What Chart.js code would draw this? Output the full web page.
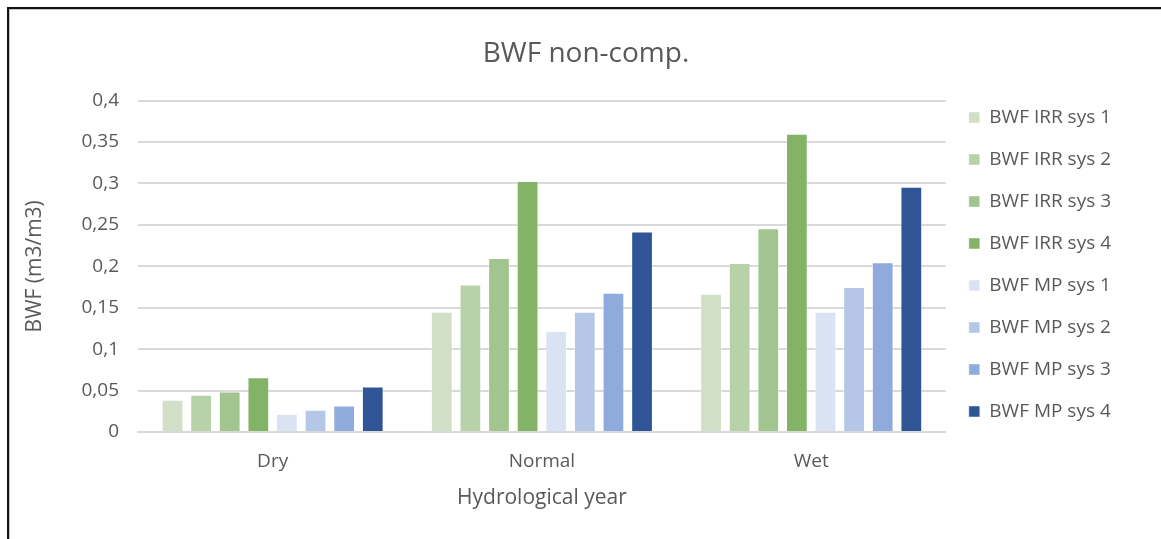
<!DOCTYPE html>
<html>
<head>
<meta charset="utf-8">
<script src="https://cdn.jsdelivr.net/npm/chart.js@4/dist/chart.umd.min.js"></script>
<style>
  html, body { margin: 0; padding: 0; background: #fff; }
  #wrap { position: relative; width: 1161px; height: 539px; overflow: hidden; }
  #frame {
    position: absolute; left: 7px; top: 7px; width: 1200px; height: 600px;
    border-left: 2px solid #111; border-top: 2px solid #111;
    box-shadow: inset 1px 1px 0 #c8c8c8; pointer-events: none;
  }
  canvas { position: absolute; left: 0; top: 0; }
</style>
</head>
<body>
<div id="wrap">
  <canvas id="chart" width="1161" height="539"></canvas>
  <div id="frame"></div>
</div>
<script>
// Hydrological year categories
const categories = ['Dry', 'Normal', 'Wet'];

// Blue water footprint per system (m3/m3)
const irrSys1 = [0.039, 0.145, 0.167];
const irrSys2 = [0.045, 0.178, 0.204];
const irrSys3 = [0.049, 0.210, 0.246];
const irrSys4 = [0.066, 0.303, 0.360];
const mpSys1  = [0.022, 0.122, 0.145];
const mpSys2  = [0.027, 0.145, 0.175];
const mpSys3  = [0.032, 0.168, 0.205];
const mpSys4  = [0.055, 0.242, 0.296];

const seriesLabels = [
  'BWF IRR sys 1', 'BWF IRR sys 2', 'BWF IRR sys 3', 'BWF IRR sys 4',
  'BWF MP sys 1', 'BWF MP sys 2', 'BWF MP sys 3', 'BWF MP sys 4'
];
const seriesValues = [irrSys1, irrSys2, irrSys3, irrSys4, mpSys1, mpSys2, mpSys3, mpSys4];
const seriesColors = [
  '#d0dfc6', '#b7d2a9', '#a2c48f', '#82b366',
  '#dae3f3', '#b4c7e7', '#8faadc', '#2f5597'
];

const yTickLabels = ['0', '0,05', '0,1', '0,15', '0,2', '0,25', '0,3', '0,35', '0,4'];

const textColor = '#595959';
const fontFamily = '"Open Sans", "Noto Sans", sans-serif';

new Chart(document.getElementById('chart'), {
  type: 'bar',
  data: {
    labels: categories,
    datasets: seriesLabels.map((label, i) => ({
      label,
      data: seriesValues[i],
      backgroundColor: seriesColors[i],
      borderColor: 'rgba(255,255,255,0.45)',
      borderWidth: 1,
      categoryPercentage: 0.85,
      barPercentage: 0.76
    }))
  },
  options: {
    responsive: false,
    animation: false,
    layout: { padding: { left: 51, right: 40, top: 0, bottom: 10 } },
    plugins: {
      title: {
        display: true,
        text: 'BWF non-comp.',
        color: textColor,
        font: { family: fontFamily, size: 28, weight: 'normal' },
        padding: { top: 37, bottom: 30 }
      },
      legend: {
        position: 'right',
        align: 'center',
        labels: {
          color: textColor,
          font: { family: fontFamily, size: 19 },
          boxWidth: 11,
          boxHeight: 11,
          padding: 23
        }
      },
      tooltip: { enabled: false }
    },
    scales: {
      x: {
        grid: { display: false, drawTicks: false },
        border: { display: true, color: '#d9d9d9', width: 2 },
        ticks: { color: textColor, font: { family: fontFamily, size: 19 }, padding: 18 },
        title: {
          display: true,
          text: 'Hydrological year',
          color: textColor,
          font: { family: fontFamily, size: 21 },
          padding: { top: 0, bottom: 18 }
        },
        afterFit: (scale) => { scale.height = 97; }
      },
      y: {
        min: 0,
        max: 0.4,
        grid: { color: '#d9d9d9', lineWidth: 2, drawTicks: false },
        border: { display: false },
        ticks: {
          stepSize: 0.05,
          color: textColor,
          font: { family: fontFamily, size: 19 },
          padding: 19,
          callback: (value, index) => yTickLabels[index]
        },
        title: {
          display: true,
          text: 'BWF (m3/m3)',
          color: textColor,
          font: { family: fontFamily, size: 21 },
          padding: { top: -29, bottom: 0 }
        },
        afterFit: (scale) => { scale.width = 87; }
      }
    }
  }
});
</script>
</body>
</html>
